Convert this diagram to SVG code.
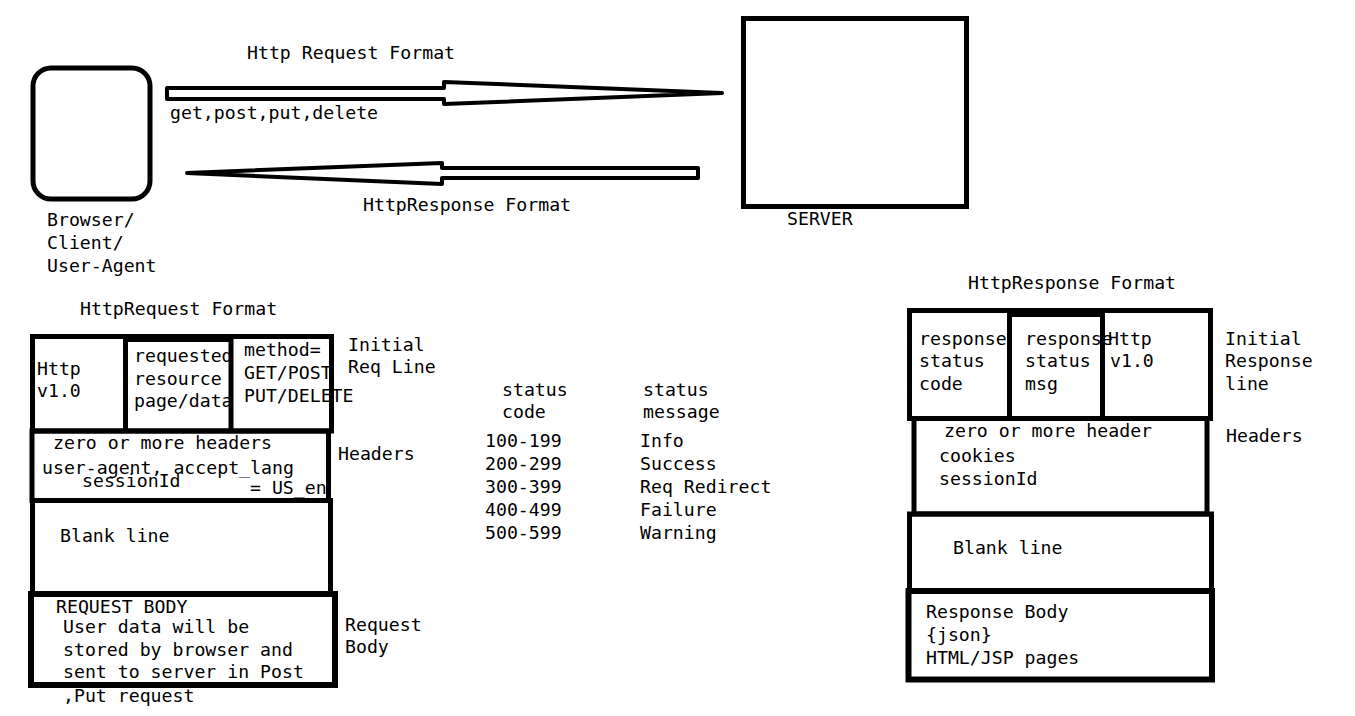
<svg xmlns="http://www.w3.org/2000/svg" width="1355" height="716" viewBox="0 0 1355 716">
<style>
text{font-family:"DejaVu Sans Mono","Liberation Mono",monospace;font-size:18.2px;fill:#000}
.b{fill:none;stroke:#000;stroke-width:5}
.b6{fill:none;stroke:#000;stroke-width:6}
.arr{fill:#fff;stroke:#000;stroke-width:4;stroke-linejoin:round}
</style>
<rect width="1355" height="716" fill="#fff"/>

<g id="client">
<rect x="33" y="68" width="117" height="131" rx="18" class="b"/>
<text x="47" y="226">Browser/</text>
<text x="47" y="249">Client/</text>
<text x="47" y="272">User-Agent</text>
</g>

<g id="server">
<rect x="743.5" y="18.5" width="223" height="188" class="b"/>
<text x="787" y="225">SERVER</text>
</g>

<g id="connectors">
<polygon class="arr" points="167,88 444,88 444,82 722,93 444,104 444,99 167,99"/>
<text x="247" y="59">Http Request Format</text>
<text x="170" y="119">get,post,put,delete</text>
<polygon class="arr" points="698,168 442,168 442,163 187,173 442,184 442,178 698,178"/>
<text x="363" y="211">HttpResponse Format</text>
</g>

<g id="request-format">
<text x="80" y="315">HttpRequest Format</text>
<text x="37" y="375">Http</text>
<text x="37" y="397">v1.0</text>
<text x="134" y="362">requested</text>
<text x="134" y="385">resource</text>
<text x="134" y="407">page/data</text>
<text x="244" y="356">method=</text>
<text x="244" y="379">GET/POST</text>
<text x="244" y="402">PUT/DELETE</text>
<text x="348" y="351">Initial</text>
<text x="348" y="373">Req Line</text>
<text x="53" y="449">zero or more headers</text>
<text x="42" y="474">user-agent, accept_lang</text>
<text x="82" y="487">sessionId</text>
<text x="250" y="494">= US_en</text>
<text x="338" y="460">Headers</text>
<text x="60" y="542">Blank line</text>
<text x="56" y="613">REQUEST BODY</text>
<text x="63" y="633">User data will be</text>
<text x="63" y="656">stored by browser and</text>
<text x="63" y="678">sent to server in Post</text>
<text x="63" y="702">,Put request</text>
<text x="345" y="631">Request</text>
<text x="345" y="653">Body</text>
<rect x="32.5" y="336.5" width="299" height="94.5" class="b"/>
<line x1="125.5" y1="336" x2="125.5" y2="431" class="b"/>
<line x1="231" y1="336" x2="231" y2="431" class="b"/>
<rect x="125" y="334" width="106" height="8" fill="#000"/>
<rect x="32" y="431" width="296.5" height="69.5" class="b"/>
<rect x="32.5" y="500.5" width="298" height="93.5" class="b"/>
<rect x="31" y="594" width="304" height="91" class="b6"/>
</g>

<g id="status-table">
<text x="502" y="396">status</text>
<text x="502" y="418">code</text>
<text x="643" y="396">status</text>
<text x="643" y="418">message</text>
<text x="485" y="447">100-199</text>
<text x="485" y="470">200-299</text>
<text x="485" y="493">300-399</text>
<text x="485" y="516">400-499</text>
<text x="485" y="539">500-599</text>
<text x="640" y="447">Info</text>
<text x="640" y="470">Success</text>
<text x="640" y="493">Req Redirect</text>
<text x="640" y="516">Failure</text>
<text x="640" y="539">Warning</text>
</g>

<g id="response-format">
<text x="968" y="289">HttpResponse Format</text>
<text x="919" y="345">response</text>
<text x="919" y="367">status</text>
<text x="919" y="390">code</text>
<text x="1025" y="345">response</text>
<text x="1025" y="367">status</text>
<text x="1025" y="390">msg</text>
<text x="1108" y="345">Http</text>
<text x="1110" y="367">v1.0</text>
<text x="1225" y="345">Initial</text>
<text x="1225" y="367">Response</text>
<text x="1225" y="390">line</text>
<text x="944" y="437">zero or more header</text>
<text x="939" y="462">cookies</text>
<text x="939" y="485">sessionId</text>
<text x="1226" y="442">Headers</text>
<text x="953" y="554">Blank line</text>
<text x="926" y="618">Response Body</text>
<text x="926" y="641">{json}</text>
<text x="926" y="664">HTML/JSP pages</text>
<rect x="909.5" y="310.5" width="301" height="108" class="b"/>
<line x1="1009.5" y1="310" x2="1009.5" y2="419" class="b"/>
<line x1="1102.5" y1="310" x2="1102.5" y2="419" class="b"/>
<rect x="1007" y="308" width="98" height="9" fill="#000"/>
<rect x="914" y="418.5" width="293" height="95.5" class="b"/>
<rect x="909.5" y="514" width="302" height="77" class="b"/>
<rect x="908.5" y="591" width="303.5" height="88.5" class="b6"/>
</g>
</svg>
